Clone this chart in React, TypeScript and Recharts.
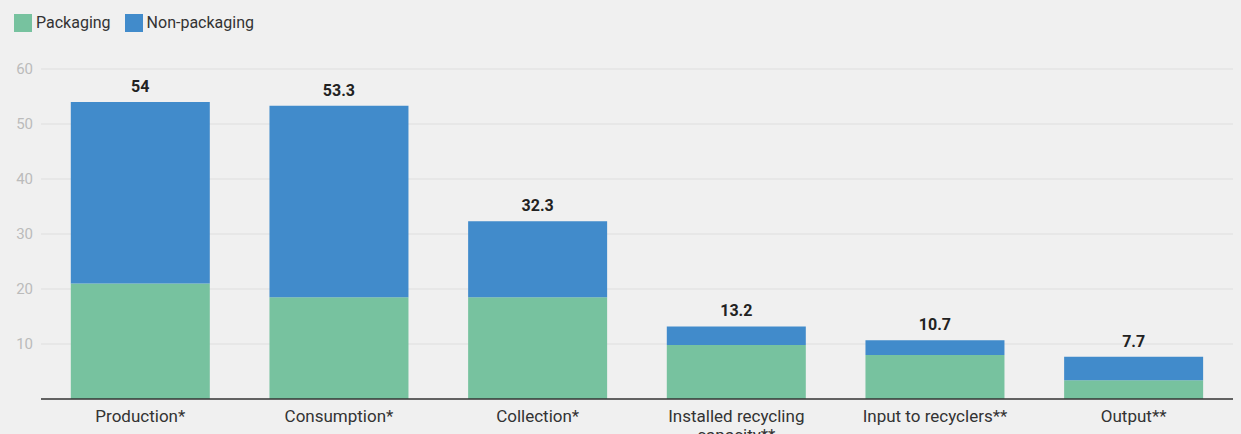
import React from "react";
import { BarChart, Bar, XAxis, YAxis, CartesianGrid, LabelList, Text } from "recharts";

const categories = [
  "Production*",
  "Consumption*",
  "Collection*",
  "Installed recycling capacity**",
  "Input to recyclers**",
  "Output**",
];
const packaging = [21, 18.5, 18.5, 9.8, 8, 3.4];
const nonPackaging = [33, 34.8, 13.8, 3.4, 2.7, 4.3];
const totals = [54, 53.3, 32.3, 13.2, 10.7, 7.7];
const yTicks = [10, 20, 30, 40, 50, 60];

const GREEN = "#77c29f";
const BLUE = "#418bcb";
const FONT = "Roboto, 'Noto Sans', sans-serif";

const data = categories.map((name, i) => ({
  name,
  packaging: packaging[i],
  nonPackaging: nonPackaging[i],
  total: totals[i],
}));

function CategoryTick(props: any) {
  const { x, y, payload } = props;
  return (
    <Text
      x={x}
      y={y + 3}
      width={170}
      textAnchor="middle"
      verticalAnchor="start"
      fontSize={17}
      fontFamily={FONT}
      fill="#333"
      lineHeight={19}
    >
      {payload.value}
    </Text>
  );
}

function TopLegend() {
  const items = [
    { label: "Packaging", color: GREEN },
    { label: "Non-packaging", color: BLUE },
  ];
  return (
    <div
      style={{
        position: "absolute",
        top: 13,
        left: 14,
        display: "flex",
        alignItems: "center",
        fontFamily: FONT,
        fontSize: 16,
        color: "#333",
      }}
    >
      {items.map((it) => (
        <div key={it.label} style={{ display: "flex", alignItems: "center", marginRight: 14 }}>
          <span style={{ width: 18, height: 18, background: it.color, display: "inline-block", marginRight: 4 }} />
          <span>{it.label}</span>
        </div>
      ))}
    </div>
  );
}

export default function App() {
  return (
    <div
      style={{
        position: "fixed",
        top: 0,
        left: 0,
        width: 1241,
        height: 434,
        background: "#f0f0f0",
        overflow: "hidden",
      }}
    >
      <BarChart
        width={1241}
        height={434}
        data={data}
        margin={{ top: 69, right: 8, left: 0, bottom: 0 }}
        barCategoryGap="15%"
      >
        <CartesianGrid vertical={false} stroke="#dedede" horizontalValues={yTicks} />
        <YAxis
          width={41}
          domain={[0, 60]}
          ticks={yTicks}
          axisLine={false}
          tickLine={false}
          tick={{ fill: "#bbb", fontSize: 15, fontFamily: FONT }}
          tickMargin={2}
        />
        <XAxis
          dataKey="name"
          height={35}
          axisLine={{ stroke: "#333", strokeWidth: 1.5 }}
          tickLine={false}
          interval={0}
          tick={<CategoryTick />}
        />
        <Bar dataKey="packaging" stackId="a" fill={GREEN} isAnimationActive={false} />
        <Bar dataKey="nonPackaging" stackId="a" fill={BLUE} isAnimationActive={false}>
          <LabelList
            dataKey="total"
            position="top"
            offset={10}
            fill="#222"
            fontSize={16}
            fontWeight="bold"
            fontFamily={FONT}
          />
        </Bar>
      </BarChart>
      <TopLegend />
    </div>
  );
}
